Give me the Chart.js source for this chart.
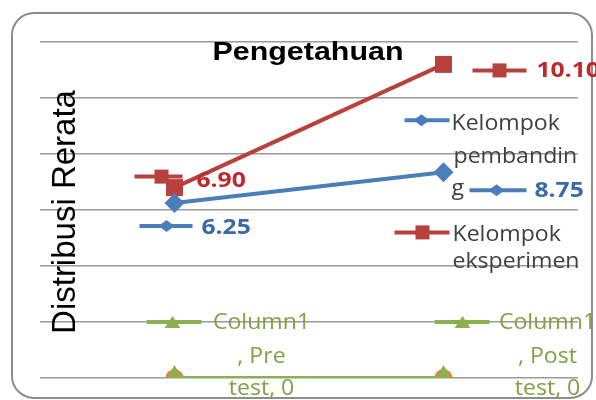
<!DOCTYPE html>
<html><head><meta charset="utf-8">
<script src="https://cdn.jsdelivr.net/npm/chart.js@4.4.0/dist/chart.umd.min.js"></script>
<style>html,body{margin:0;padding:0;background:#fff;}#wrap{position:relative;width:596px;height:400px;}</style>
</head><body><div id="wrap"><canvas id="c" width="596" height="400"></canvas></div>
<script>
// ---- data ----
const categories = ['Pre test', 'Post test'];
const pembanding = [6.25, 7.35];          // plotted positions of "Kelompok pembanding"
const eksperimen = [6.8, 11.2];           // plotted positions of "Kelompok eksperimen"
const column1 = [0, 0];                   // "Column1"
const extraSeries = [0, 0];               // orange circle markers under Column1
const pembandingLabels = ['6.25', '8.75'];
const eksperimenLabels = ['6.90', '10.10'];
const column1Labels = ['0', '0'];
const yMin = 0, yMax = 12, yStep = 2;

const BLUE = '#4A7EBB', RED = '#B8403D', GREEN = '#8DB04E', ORANGE = '#EE7F3A';
const BLUE_T = '#3A6AA8', RED_T = '#C1272D', GREEN_T = '#80A243', GRAY_T = '#404040';
const LBL = '22px "Open Sans"', LBLB = 'bold 22px "Open Sans"';

function txt(ctx, s, x, y, font, color, align, sx) {
  ctx.save();
  ctx.font = font; ctx.fillStyle = color; ctx.textBaseline = 'alphabetic'; ctx.textAlign = 'left';
  const w = ctx.measureText(s).width * sx;
  const left = align === 'center' ? x - w / 2 : (align === 'right' ? x - w : x);
  ctx.translate(left, y); ctx.scale(sx, 1); ctx.fillText(s, 0, 0);
  ctx.restore();
}
function shape(ctx, kind, x, y, w, h, color) {
  ctx.save(); ctx.fillStyle = color; ctx.beginPath();
  if (kind === 'rect') { ctx.rect(x - w, y - h, 2 * w, 2 * h); }
  else if (kind === 'diamond') { ctx.moveTo(x - w, y); ctx.lineTo(x, y - h); ctx.lineTo(x + w, y); ctx.lineTo(x, y + h); ctx.closePath(); }
  else if (kind === 'triangle') { ctx.moveTo(x - w, y + h / 2); ctx.lineTo(x, y - h / 2); ctx.lineTo(x + w, y + h / 2); ctx.closePath(); }
  ctx.fill(); ctx.restore();
}
function key(ctx, x1, x2, y, color, kind, mx, w, h) {
  ctx.save(); ctx.strokeStyle = color; ctx.lineWidth = 4; ctx.lineCap = 'butt';
  ctx.beginPath(); ctx.moveTo(x1, y); ctx.lineTo(x2, y); ctx.stroke(); ctx.restore();
  shape(ctx, kind, mx, y, w, h, color);
}

const overlay = {
  id: 'overlay',
  beforeDraw(chart) {
    const ctx = chart.ctx;
    ctx.save();
    ctx.fillStyle = '#fff'; ctx.fillRect(0, 0, chart.width, chart.height);
    ctx.strokeStyle = '#8c8c8c'; ctx.lineWidth = 2;
    ctx.beginPath(); ctx.roundRect(12, 13, 580, 385, 22); ctx.stroke();
    ctx.restore();
  },
  afterDatasetsDraw(chart) {
    const ctx = chart.ctx;
    const b = chart.getDatasetMeta(0).data, r = chart.getDatasetMeta(1).data, g = chart.getDatasetMeta(2).data;
    // title
    txt(ctx, 'Pengetahuan', 308, 60, 'bold 26px "Liberation Sans"', '#000', 'center', 1.17);
    // y axis title
    ctx.save(); ctx.translate(75, 212); ctx.rotate(-Math.PI / 2);
    ctx.font = '33px "Liberation Sans"'; ctx.fillStyle = '#000'; ctx.textAlign = 'center'; ctx.textBaseline = 'alphabetic';
    ctx.fillText('Distribusi Rerata', 0, 0); ctx.restore();

    // red pre
    let p = r[0];
    key(ctx, p.x - 40, p.x + 8, p.y - 11, RED, 'rect', p.x - 13, 7, 7);
    txt(ctx, eksperimenLabels[0], p.x + 22, p.y - 1, LBLB, RED_T, 'left', 1.12);
    // red post
    p = r[1];
    key(ctx, p.x + 29, p.x + 83, p.y + 6, RED, 'rect', p.x + 56, 7, 7);
    txt(ctx, eksperimenLabels[1], p.x + 93, p.y + 13, LBLB, RED_T, 'left', 1.12);
    key(ctx, p.x - 49, p.x + 6, p.y + 168, RED, 'rect', p.x - 21, 7, 7);
    txt(ctx, 'Kelompok', p.x + 9, p.y + 177, LBL, GRAY_T, 'left', 1.05);
    txt(ctx, 'eksperimen', p.x + 9, p.y + 204, LBL, GRAY_T, 'left', 1.05);
    // blue pre
    p = b[0];
    key(ctx, p.x - 35, p.x + 18, p.y + 23, BLUE, 'diamond', p.x - 8, 8, 6);
    txt(ctx, pembandingLabels[0], p.x + 27, p.y + 31, LBLB, BLUE_T, 'left', 1.12);
    // blue post
    p = b[1];
    key(ctx, p.x - 39, p.x + 6, p.y - 52, BLUE, 'diamond', p.x - 22, 8, 6);
    txt(ctx, 'Kelompok', p.x + 8, p.y - 42, LBL, GRAY_T, 'left', 1.05);
    txt(ctx, 'pembandin', p.x + 10, p.y - 9, LBL, GRAY_T, 'left', 1.05);
    txt(ctx, 'g', p.x + 8, p.y + 23, LBL, GRAY_T, 'left', 1.05);
    key(ctx, p.x + 26, p.x + 83, p.y + 18, BLUE, 'diamond', p.x + 53, 8, 6);
    txt(ctx, pembandingLabels[1], p.x + 91, p.y + 25, LBLB, BLUE_T, 'left', 1.12);
    // green
    const gOff = [[-28, 27, -2, 87, ', Pre'], [-9, 46, 19, 104, ', Post']];
    g.forEach((q, i) => {
      const o = gOff[i];
      key(ctx, q.x + o[0], q.x + o[1], q.y - 56, GREEN, 'triangle', q.x + o[2], 8, 12);
      txt(ctx, 'Column1', q.x + o[3], q.y - 49, LBL, GREEN_T, 'center', 1.05);
      txt(ctx, o[4], q.x + o[3], q.y - 15, LBL, GREEN_T, 'center', 1.05);
      txt(ctx, 'test, ' + column1Labels[i], q.x + o[3], q.y + 17, LBL, GREEN_T, 'center', 1.05);
    });
  }
};

new Chart(document.getElementById('c'), {
  type: 'line',
  data: {
    labels: categories,
    datasets: [
      { label: 'Kelompok pembanding', data: pembanding, borderColor: BLUE, backgroundColor: BLUE, borderWidth: 4,
        pointStyle: 'rectRot', pointRadius: 10, pointBorderWidth: 0 },
      { label: 'Kelompok eksperimen', data: eksperimen, borderColor: RED, backgroundColor: RED, borderWidth: 4,
        pointStyle: 'rect', pointRadius: 12, pointBorderWidth: 0 },
      { label: 'Column1', data: column1, borderColor: GREEN, backgroundColor: GREEN, borderWidth: 4,
        pointStyle: 'triangle', pointRadius: 13, pointBorderWidth: 0 },
      { label: 'Series', data: extraSeries, showLine: false, borderColor: ORANGE, backgroundColor: ORANGE,
        pointStyle: 'circle', pointRadius: 9, pointBorderWidth: 0 }
    ]
  },
  options: {
    responsive: false, devicePixelRatio: 1, animation: false,
    layout: { padding: { left: 40, right: 18, top: 42, bottom: 22 } },
    plugins: { legend: { display: false }, tooltip: { enabled: false }, title: { display: false } },
    scales: {
      x: { display: false, offset: true },
      y: { display: true, min: yMin, max: yMax,
        ticks: { display: false, stepSize: yStep },
        grid: { color: '#9a9a9a', lineWidth: 1.5, drawTicks: false },
        border: { display: false } }
    }
  },
  plugins: [overlay]
});
</script></body></html>
